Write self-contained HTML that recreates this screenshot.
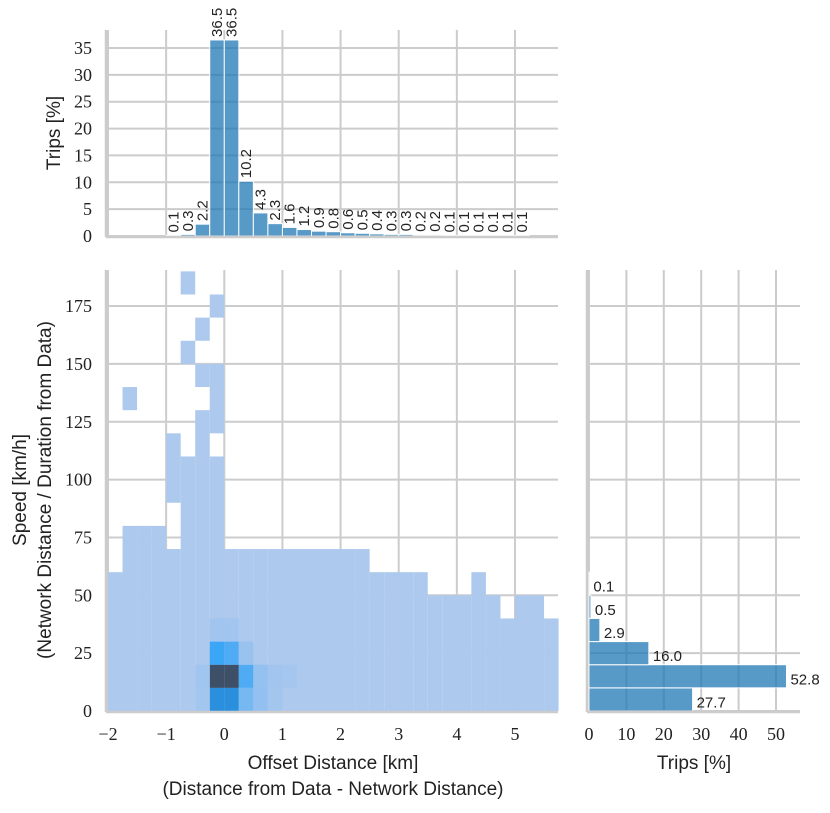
<!DOCTYPE html>
<html><head><meta charset="utf-8"><style>
html,body{margin:0;padding:0;background:#fff;}
svg text{font-family:"Liberation Sans",sans-serif;fill:#222;}
.tick{font-family:"Liberation Serif",serif;font-size:18px;}
</style></head><body>
<svg id="chart" width="830" height="808" xmlns="http://www.w3.org/2000/svg">
<g id="grid"></g>
<g id="marks"></g>
<g id="axes"></g>
<text x="333" y="769" text-anchor="middle" font-size="19">Offset Distance [km]</text>
<text x="333" y="795" text-anchor="middle" font-size="19">(Distance from Data - Network Distance)</text>
<text transform="translate(26,490) rotate(-90)" text-anchor="middle" font-size="19">Speed [km/h]</text>
<text transform="translate(51,490) rotate(-90)" text-anchor="middle" font-size="19">(Network Distance / Duration from Data)</text>
<text transform="translate(60,133) rotate(-90)" text-anchor="middle" font-size="19">Trips [%]</text>
<text x="694" y="769" text-anchor="middle" font-size="19">Trips [%]</text>
</svg>
<script>
// top histogram: bins of 0.25 km starting at -2 (index 4..28)
const topStartBin = 4;
const topValues = [0.1,0.3,2.2,36.5,36.5,10.2,4.3,2.3,1.6,1.2,0.9,0.8,0.6,0.5,0.4,0.3,0.3,0.2,0.2,0.1,0.1,0.1,0.1,0.1,0.1];
const topLabels = ["0.1","0.3","2.2","36.5","36.5","10.2","4.3","2.3","1.6","1.2","0.9","0.8","0.6","0.5","0.4","0.3","0.3","0.2","0.2","0.1","0.1","0.1","0.1","0.1","0.1"];
// right histogram: speed bins of 10 km/h
const rightBins = [0,10,20,30,40,50];
const rightValues = [27.7,52.8,16.0,2.9,0.5,0.1];
const rightLabels = ["27.7","52.8","16.0","2.9","0.5","0.1"];
// heatmap: per column (0.25 km) list of filled speed ranges [from,to]
const colRanges = [
 [[0,60]],[[0,80],[130,140]],[[0,80]],[[0,80]],[[0,70],[90,120]],
 [[0,110],[150,160],[180,190]],[[0,130],[140,150],[160,170]],[[0,110],[120,150],[170,180]],
 [[0,70]],[[0,70]],[[0,70]],[[0,70]],[[0,70]],[[0,70]],[[0,70]],[[0,70]],[[0,70]],[[0,70]],
 [[0,60]],[[0,60]],[[0,60]],[[0,60]],[[0,50]],[[0,50]],[[0,50]],[[0,60]],[[0,50]],[[0,40]],[[0,50]],[[0,50]],[[0,40]]
];
// dense cells: [column, speedBinStart, intensity 0..1]
const hotCells = [
 [7,0,0.66],[7,10,1.0],[7,20,0.5],[7,30,0.12],
 [8,0,0.66],[8,10,1.0],[8,20,0.45],[8,30,0.11],
 [9,0,0.36],[9,10,0.45],[9,20,0.2],
 [10,0,0.26],[10,10,0.25],[6,0,0.1],[6,10,0.13],[11,0,0.1],[11,10,0.12],[12,10,0.08]
];
const xTicks = [-2,-1,0,1,2,3,4,5];
const xTickLabels = ["\u22122","\u22121","0","1","2","3","4","5"];
const yTicks = [0,25,50,75,100,125,150,175];
const topTicks = [0,5,10,15,20,25,30,35];
const rightTicks = [0,10,20,30,40,50];

const NS="http://www.w3.org/2000/svg";
const X = v => 108 + (v+2)*58.14;
const Y = v => 711 - v*2.314;
const TY = v => 236 - v*5.371;
const RX = v => 589 + v*3.74;
const BW = 0.25;
function mk(tag, attrs, parent, txt){const e=document.createElementNS(NS,tag);for(const k in attrs)e.setAttribute(k,attrs[k]);if(txt!==undefined)e.textContent=txt;parent.appendChild(e);return e;}
const grid=document.getElementById('grid'), marks=document.getElementById('marks'), axes=document.getElementById('axes');
const GC="#cccccc";
xTicks.forEach((t,idx)=>{
 let l=mk('line',{x1:X(t),x2:X(t),y1:270,y2:711,stroke:GC,'stroke-width':2},grid);
 
 
 let l2=mk('line',{x1:X(t),x2:X(t),y1:30,y2:236,stroke:GC,'stroke-width':2},grid);
 
 
 let tx=mk('text',{x:X(t),y:740,'text-anchor':'middle',class:'tick'},axes,xTickLabels[idx]);
 
 
});
yTicks.forEach(t=>{
 let l=mk('line',{x1:106,x2:558,y1:Y(t),y2:Y(t),stroke:GC,'stroke-width':2},grid);
 
 
 let l2=mk('line',{x1:587,x2:800,y1:Y(t),y2:Y(t),stroke:GC,'stroke-width':2},grid);
 
 
 let tx=mk('text',{x:92,y:Y(t)+6,'text-anchor':'end',class:'tick'},axes,String(t));
 
 
});
topTicks.forEach(t=>{
 let l=mk('line',{x1:106,x2:558,y1:TY(t),y2:TY(t),stroke:GC,'stroke-width':2},grid);
 
 
 let tx=mk('text',{x:92,y:TY(t)+6,'text-anchor':'end',class:'tick'},axes,String(t));
 
 
});
rightTicks.forEach(t=>{
 let l=mk('line',{x1:RX(t),x2:RX(t),y1:270,y2:711,stroke:GC,'stroke-width':2},grid);
 
 
 let tx=mk('text',{x:RX(t),y:740,'text-anchor':'middle',class:'tick'},axes,String(t));
 
 
});
[[106,270,106,712],[106,712,558,712],[106,30,106,237],[106,237,558,237],[587,270,587,712],[587,712,800,712]].forEach(s=>{
 let l=mk('line',{x1:s[0],y1:s[1],x2:s[2],y2:s[3],stroke:GC,'stroke-width':2.5},axes);
 
 
});
colRanges.forEach((ranges,i)=>{
 const x0=-2+i*BW;
 ranges.forEach(r=>{
  let rc=mk('rect',{x:X(x0),y:Y(r[1]),width:X(x0+BW)-X(x0),height:Y(r[0])-Y(r[1]),fill:'#adc9ee'},marks);
  
  
 });
});
function lerp(a,b,t){return a.map((v,i)=>Math.round(v+(b[i]-v)*t));}
const stops=[[0,[173,201,238]],[0.3,[143,191,240]],[0.5,[58,166,245]],[0.66,[42,143,220]],[1,[61,80,104]]];
function col(v){for(let k=1;k<stops.length;k++){if(v<=stops[k][0]){const t=(v-stops[k-1][0])/(stops[k][0]-stops[k-1][0]);const c=lerp(stops[k-1][1],stops[k][1],t);return `rgb(${c[0]},${c[1]},${c[2]})`;}}return 'rgb(61,80,104)';}
hotCells.forEach(h=>{
 const x0=-2+h[0]*BW;
 let rc=mk('rect',{x:X(x0),y:Y(h[1]+10),width:X(x0+BW)-X(x0),height:Y(h[1])-Y(h[1]+10),fill:col(h[2])},marks);
 
 
});
topValues.forEach((v,k)=>{
 const x0=-2+(topStartBin+k)*BW;
 let b=mk('rect',{x:X(x0),y:TY(v),width:X(x0+BW)-X(x0),height:TY(0)-TY(v),fill:'rgba(31,119,180,0.75)',stroke:'#fff','stroke-width':1},marks);
 
 
 const cx=X(x0+BW/2)+5;
 let t=mk('text',{transform:`translate(${cx},${TY(v)-3}) rotate(-90)`,'font-size':15},marks,topLabels[k]);
 
 
});
rightValues.forEach((v,k)=>{
 const y0=rightBins[k];
 let b=mk('rect',{x:RX(0),y:Y(y0+10),width:RX(v)-RX(0),height:Y(y0)-Y(y0+10),fill:'rgba(31,119,180,0.75)',stroke:'#fff','stroke-width':1},marks);
 
 
 let t=mk('text',{x:RX(v)+4,y:Y(y0+5)+8,'font-size':15},marks,rightLabels[k]);
 
 
});
</script>
</body></html>
